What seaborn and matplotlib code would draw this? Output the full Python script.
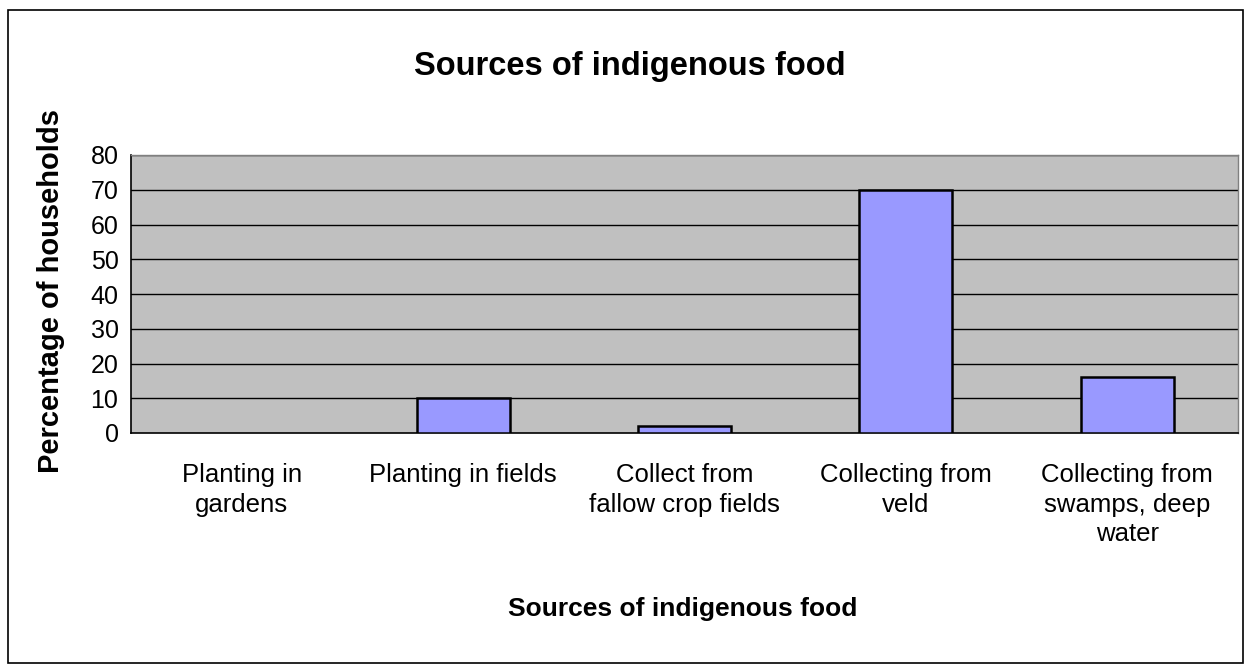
import matplotlib
matplotlib.use("Agg")
import matplotlib.pyplot as plt
import matplotlib.patches as mpatches
import seaborn as sns
import pandas as pd

# data
categories = ["Planting in\ngardens", "Planting in fields", "Collect from\nfallow crop fields",
              "Collecting from\nveld", "Collecting from\nswamps, deep\nwater"]
percentages = [0, 10, 2, 70, 16]
y_ticks = [0, 10, 20, 30, 40, 50, 60, 70, 80]

df = pd.DataFrame({"source": categories, "pct": percentages})

sns.set_style("white")
plt.rcParams["font.family"] = ["Liberation Sans", "DejaVu Sans"]
plt.rcParams["text.color"] = "black"
plt.rcParams["xtick.color"] = "black"
plt.rcParams["ytick.color"] = "black"

W, H = 1244, 664
fig = plt.figure(figsize=(W / 100, H / 100), dpi=100)
ax = fig.add_axes([131 / W, 1 - 433 / H, (1238 - 131) / W, (433 - 155) / H])
ax.set_facecolor("#C0C0C0")

sns.barplot(data=df, x="source", y="pct", ax=ax, color="#9999FF",
            edgecolor="black", linewidth=1.8, width=0.42, saturation=1, zorder=3)
for p in ax.patches:
    if p.get_height() == 0:
        p.set_linewidth(0)

ax.set_ylim(0, 80)
ax.set_xlim(-0.5, len(categories) - 0.5)
ax.set_yticks(y_ticks)
ax.set_yticklabels([str(v) for v in y_ticks], fontsize=18)
for v in y_ticks[1:]:
    ax.axhline(v, color="black", lw=1, zorder=1)

# x ticks at category boundaries, labels centred in each category
ax.set_xticks([i - 0.5 for i in range(len(categories) + 1)])
ax.set_xticklabels([])
ax.tick_params(axis="x", direction="out", length=8, width=1, color="black")
ax.tick_params(axis="y", direction="out", length=6, width=1, color="black", pad=3)
for i, lab in enumerate(categories):
    ax.text(i, -(30 / 278), lab, ha="center", va="top", fontsize=18.5,
            linespacing=1.3, transform=ax.get_xaxis_transform())

for s in ["left", "bottom"]:
    ax.spines[s].set_color("black")
    ax.spines[s].set_linewidth(1.2)
for s in ["top", "right"]:
    ax.spines[s].set_color("#808080")
    ax.spines[s].set_linewidth(1)

ax.set_xlabel("")
ax.set_ylabel("")
fig.text(51 / W, 1 - 291 / H, "Percentage of households", rotation=90,
         ha="center", va="center", fontsize=21, fontweight="bold")
fig.text(683 / W, 1 - 609 / H, "Sources of indigenous food", ha="center", va="center",
         fontsize=19, fontweight="bold")
fig.text(630 / W, 1 - 66 / H, "Sources of indigenous food", ha="center", va="center",
         fontsize=23.5, fontweight="bold")

fig.patches.append(mpatches.Rectangle((8 / W, 1 / H), 1235 / W, 653 / H,
                                      transform=fig.transFigure, fill=False,
                                      edgecolor="black", lw=1.2))

fig.savefig("out.png", dpi=100)
